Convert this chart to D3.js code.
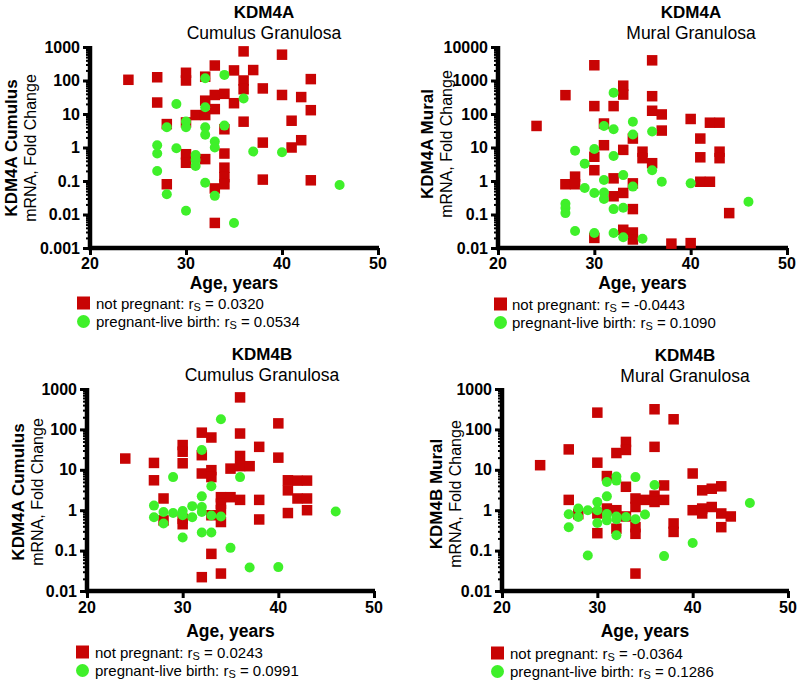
<!DOCTYPE html>
<html><head><meta charset="utf-8">
<script src="https://cdn.jsdelivr.net/npm/d3@7"></script>
<style>
html,body{margin:0;padding:0;background:#fff;}
svg{display:block;font-family:"Liberation Sans",Arial,Helvetica,sans-serif;}
</style></head>
<body>
<svg id="chart" width="798" height="680"></svg>
<script>
// ---------- DATA (age, fold change) ----------
const kdm4aCumulusNotPregnant = [[24,105],[27,125],[27,22],[28,5.0],[28,0.08],[30,170],[30,100],[30,5.6],[30,0.63],[30,0.35],[31,9.3],[32,9.3],[32,25],[32,130],[32,0.45],[33,280],[33,37],[33,14],[33,0.06],[33,0.0056],[34,40],[34,3.5],[34,0.66],[34,0.25],[34,0.13],[34,0.08],[35,200],[35,21],[36,740],[36,100],[36,55],[36,5.9],[37,205],[38,58],[38,1.4],[38,0.11],[40,590],[40,37],[41,6.3],[41,1.0],[42,32],[42,1.65],[43,110],[43,13],[43,0.105]];
const kdm4aCumulusPregnant = [[27,1.17],[27,0.66],[27,0.2],[28,4.0],[28,0.04],[29,20],[29,0.95],[30,6.0],[30,4.0],[30,0.013],[31,0.6],[31,0.42],[31,0.28],[32,117],[32,16],[32,4.0],[32,2.4],[32,0.089],[33,1.5],[33,1.0],[33,0.036],[34,147],[34,4.5],[35,0.0056],[36,29],[37,0.76],[40,0.72],[46,0.076]];
const kdm4aMuralNotPregnant = [[24,44],[27,365],[27,0.8],[28,1.35],[28,0.8],[30,2850],[30,172],[30,5.3],[30,2.1],[30,0.02],[31,52],[31,11.7],[32,172],[32,1.2],[32,0.35],[33,700],[33,380],[33,8.5],[33,0.44],[33,0.035],[34,18.5],[34,0.85],[34,0.145],[34,0.029],[34,0.018],[35,7.5],[35,4.8],[36,4000],[36,340],[36,125],[36,3.4],[37,97],[37,32],[38,0.0135],[40,71],[40,0.014],[41,18.5],[41,5.1],[41,0.95],[42,0.95],[42,55],[43,55],[43,7.5],[43,4.8],[44,0.11]];
const kdm4aMuralPregnant = [[27,0.21],[27,0.155],[27,0.11],[28,8.0],[28,0.032],[29,3.3],[29,0.62],[30,9],[30,0.44],[30,0.028],[31,44],[31,1.07],[31,0.45],[31,0.29],[32,430],[32,35],[32,5.6],[32,0.145],[32,0.028],[33,1.5],[33,0.16],[33,0.021],[34,59],[34,24.5],[34,0.68],[35,0.019],[36,30],[36,2.1],[37,0.95],[40,0.85],[46,0.24]];
const kdm4bCumulusNotPregnant = [[24,19],[27,14.8],[27,5.5],[28,1.95],[28,0.56],[30,41],[30,28],[30,14.5],[30,0.61],[30,0.45],[32,83],[32,23],[32,8.1],[32,0.022],[33,63],[33,9.8],[33,6.6],[33,0.75],[33,0.083],[34,2.1],[34,1.45],[34,1.0],[34,0.51],[34,0.027],[35,2.1],[35,10.7],[36,620],[36,79],[36,22],[36,12.3],[36,1.8],[37,12.3],[38,37],[38,1.8],[38,0.59],[40,141],[40,20],[41,5.5],[41,3.1],[41,0.85],[42,5.4],[42,1.95],[43,5.4],[43,1.95],[43,1.0]];
const kdm4bCumulusPregnant = [[27,1.3],[27,0.67],[28,0.9],[28,0.47],[29,6.6],[29,0.85],[30,0.95],[30,0.75],[30,0.21],[31,1.26],[31,0.67],[32,31],[32,2.2],[32,1.2],[32,0.9],[32,0.28],[33,3.9],[33,0.74],[33,0.28],[34,178],[34,0.7],[35,0.117],[36,6.6],[37,0.038],[40,0.039],[46,0.93]];
const kdm4bMuralNotPregnant = [[24,13],[27,32],[27,1.8],[28,0.8],[30,260],[30,15],[30,0.83],[30,0.27],[31,7],[31,1.1],[32,26],[32,1.0],[32,0.35],[33,49],[33,31],[33,3.8],[33,0.7],[34,1.95],[34,1.2],[34,0.38],[34,0.26],[34,0.027],[35,1.8],[36,315],[36,37],[36,2.3],[36,1.6],[37,4.1],[37,1.8],[38,178],[38,0.47],[38,0.29],[40,8.1],[40,1.0],[41,3.1],[41,1.1],[41,0.83],[42,3.4],[42,1.2],[43,3.9],[43,0.83],[43,0.38],[44,0.7]];
const kdm4bMuralPregnant = [[27,0.79],[27,0.38],[28,1.1],[28,0.68],[29,1.0],[29,0.076],[30,1.6],[30,1.0],[30,0.48],[31,5.0],[31,2.2],[31,0.8],[31,0.56],[32,6.8],[32,5.4],[32,0.7],[32,0.6],[32,0.24],[33,0.68],[34,6.6],[34,0.6],[35,0.78],[36,4.2],[37,0.073],[40,0.155],[46,1.5]];

const xTicks = [20, 30, 40, 50];
const genes = ["KDM4A", "KDM4A", "KDM4B", "KDM4B"];
const tissues = ["Cumulus Granulosa", "Mural Granulosa", "Cumulus Granulosa", "Mural Granulosa"];
const yLabels = ["KDM4A Cumulus", "KDM4A Mural", "KDM4A Cumulus", "KDM4B Mural"];
const yDomains = [[0.001, 1000], [0.01, 10000], [0.01, 1000], [0.01, 1000]];
const rsNotPregnant = ["0.0320", "-0.0443", "0.0243", "-0.0364"];
const rsPregnant = ["0.0534", "0.1090", "0.0991", "0.1286"];
const seriesNames = ["not pregnant", "pregnant-live birth"];

// ---------- LAYOUT ----------
const RED = "#c80404", GREEN = "#3ff02a";
const layout = [
  {x0:90,  x1:378, yT:47,  yB:248, tx:264, tY:18,  yl1:17,  yl2:36,  ylc:148, xtY:269, xtt:289, lx:77,  ly:303, ltx:96},
  {x0:498, x1:787, yT:47,  yB:248, tx:691, tY:18,  yl1:433, yl2:452, ylc:144, xtY:269, xtt:289, lx:494, ly:304, ltx:512},
  {x0:87,  x1:374, yT:389, yB:591, tx:262, tY:360, yl1:24,  yl2:43,  ylc:492, xtY:613, xtt:637, lx:76,  ly:652, ltx:95},
  {x0:502, x1:788, yT:389, yB:591, tx:685, tY:361, yl1:442, yl2:461, ylc:494, xtY:613, xtt:637, lx:491, ly:653, ltx:510}
];
const panelData = [
  [kdm4aCumulusNotPregnant, kdm4aCumulusPregnant],
  [kdm4aMuralNotPregnant, kdm4aMuralPregnant],
  [kdm4bCumulusNotPregnant, kdm4bCumulusPregnant],
  [kdm4bMuralNotPregnant, kdm4bMuralPregnant]
];

const svg = d3.select("#chart");

layout.forEach((L, i) => {
  const g = svg.append("g");
  const x = d3.scaleLinear().domain([20, 50]).range([L.x0, L.x1]);
  const y = d3.scaleLog().domain(yDomains[i]).range([L.yB, L.yT]);
  const [lo, hi] = yDomains[i];
  const majors = [], minors = [];
  for (let e = Math.round(Math.log10(lo)); e <= Math.round(Math.log10(hi)); e++) {
    majors.push(+Math.pow(10, e).toPrecision(1));
    if (e < Math.round(Math.log10(hi))) for (let k = 2; k <= 9; k++) minors.push(k * Math.pow(10, e));
  }

  // Minor y ticks
  g.append("g").attr("transform", `translate(${L.x0},0)`)
    .call(d3.axisLeft(y).tickValues(minors).tickSize(4).tickFormat(""))
    .call(a => a.select(".domain").remove())
    .call(a => a.selectAll("line").attr("stroke", "#000").attr("stroke-width", 2));

  // Major y ticks
  const ya = g.append("g").attr("transform", `translate(${L.x0},0)`)
    .call(d3.axisLeft(y).tickValues(majors).tickSize(7).tickSizeOuter(0).tickPadding(3)
      .tickFormat(d => String(d)));
  ya.select(".domain").attr("stroke-width", 4.5).attr("d", `M0,${L.yT - 1}V${L.yB}`);
  ya.selectAll("line").attr("stroke-width", 3);
  ya.selectAll("text").attr("font-size", 16).attr("font-weight", "bold").attr("fill", "#000")
    .attr("font-family", '"Liberation Sans",Arial,sans-serif');

  // X axis
  const xa = g.append("g").attr("transform", `translate(0,${L.yB})`)
    .call(d3.axisBottom(x).tickValues(xTicks).tickSize(7).tickSizeOuter(0).tickFormat(""));
  xa.select(".domain").attr("stroke-width", 4.5).attr("d", `M${L.x0 - 2},0H${L.x1 + 1}`);
  xa.selectAll("line").attr("stroke-width", 3);
  g.selectAll(".xtl").data(xTicks).join("text")
    .attr("x", d => x(d)).attr("y", L.xtY).attr("text-anchor", "middle")
    .attr("font-size", 16).attr("font-weight", "bold").text(d => d);

  // Titles
  g.append("text").attr("x", L.tx).attr("y", L.tY).attr("text-anchor", "middle")
    .attr("font-size", 17).attr("font-weight", "bold").text(genes[i]);
  g.append("text").attr("x", L.tx).attr("y", L.tY + 21).attr("text-anchor", "middle")
    .attr("font-size", 17.5).text(tissues[i]);

  // Y labels
  g.append("text").attr("transform", `translate(${L.yl1},${L.ylc}) rotate(-90)`)
    .attr("text-anchor", "middle").attr("font-size", 17).attr("font-weight", "bold").text(yLabels[i]);
  g.append("text").attr("transform", `translate(${L.yl2},${L.ylc}) rotate(-90)`)
    .attr("text-anchor", "middle").attr("font-size", 16).text("mRNA, Fold Change");

  // X title
  g.append("text").attr("x", (L.x0 + L.x1) / 2).attr("y", L.xtt).attr("text-anchor", "middle")
    .attr("font-size", 17.5).attr("font-weight", "bold").text("Age, years");

  // Points
  const s = 10.5;
  g.append("g").selectAll("rect").data(panelData[i][0]).join("rect")
    .attr("x", d => x(d[0]) - s / 2).attr("y", d => y(d[1]) - s / 2)
    .attr("width", s).attr("height", s).attr("fill", RED);
  g.append("g").selectAll("circle").data(panelData[i][1]).join("circle")
    .attr("cx", d => x(d[0])).attr("cy", d => y(d[1])).attr("r", 5).attr("fill", GREEN);

  // Legend
  const rs = [rsNotPregnant[i], rsPregnant[i]];
  g.append("rect").attr("x", L.lx).attr("y", L.ly - 6.5).attr("width", 13).attr("height", 13).attr("fill", RED);
  g.append("circle").attr("cx", L.lx + 6.5).attr("cy", L.ly + 18.5).attr("r", 6.5).attr("fill", GREEN);
  [0, 1].forEach(k => {
    const t = g.append("text").attr("x", L.ltx).attr("y", L.ly + 5.5 + k * 18.5).attr("font-size", 15);
    t.append("tspan").text(seriesNames[k] + ": r");
    t.append("tspan").attr("font-size", 11).attr("dy", 2).text("S");
    t.append("tspan").attr("dy", -2).text(" = " + rs[k]);
  });
});
</script>
</body></html>
